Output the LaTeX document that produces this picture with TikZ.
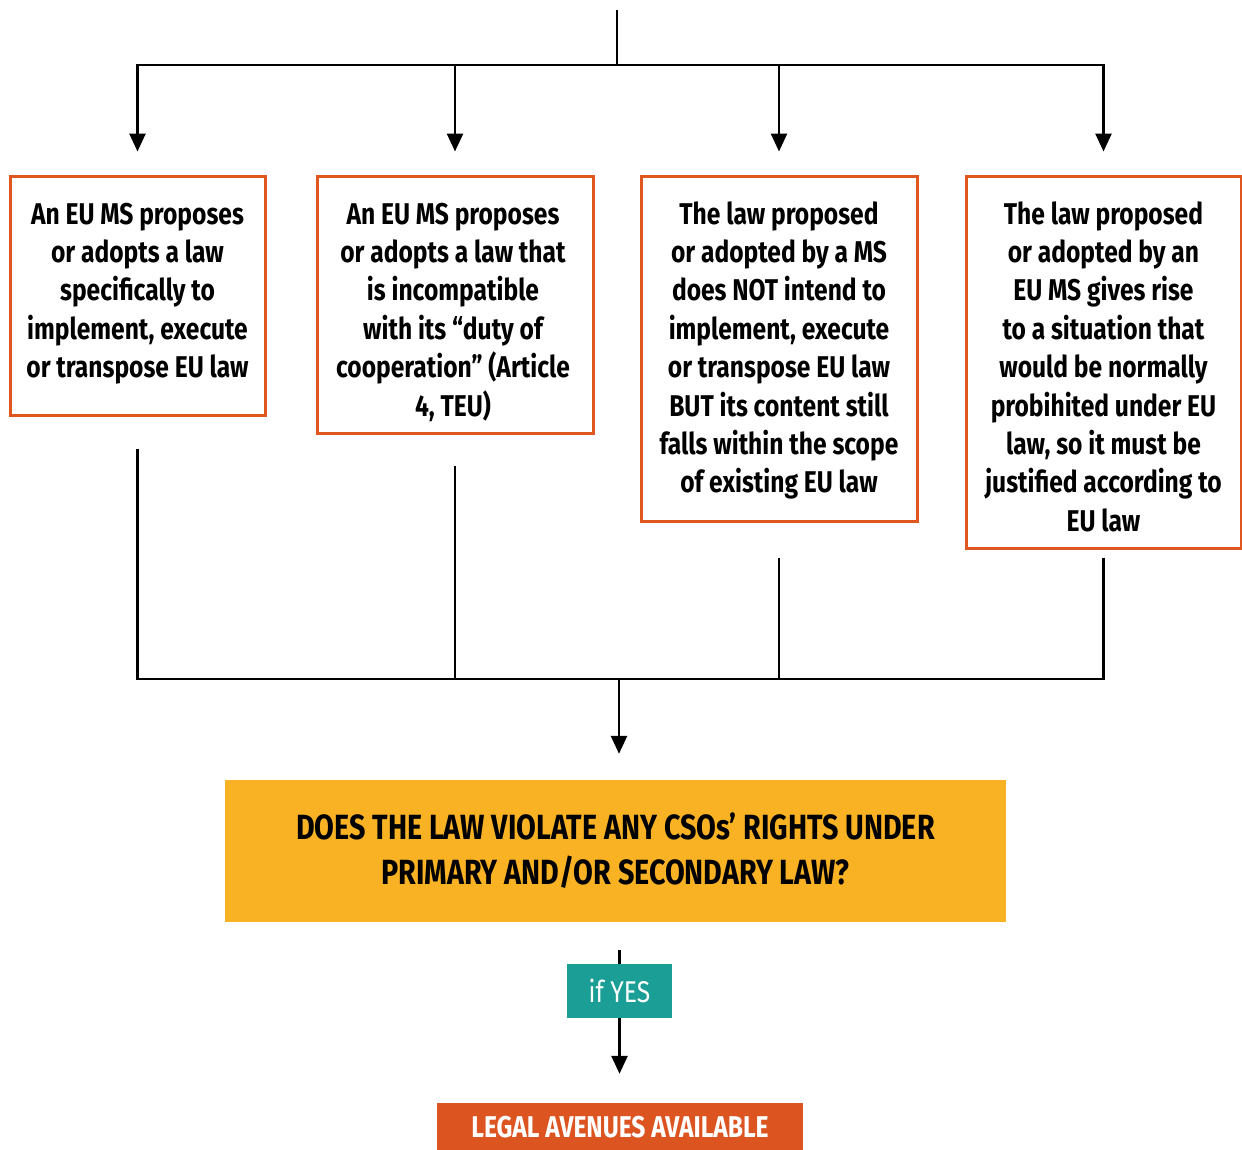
\documentclass[tikz,border=0pt]{standalone}
\usepackage{fontspec}
\setmainfont{Fira Sans}[FakeStretch=0.82]
\usetikzlibrary{arrows.meta}
\definecolor{borderor}{HTML}{E0561F}
\definecolor{fillor}{HTML}{DC5521}
\definecolor{qyellow}{HTML}{F9B224}
\definecolor{teal}{HTML}{1A9E96}
\tikzset{
  conn/.style={line width=2.6pt, black},
  arr/.style={conn, -{Triangle[width=16pt,length=18pt]}},
  casebox/.style={draw=borderor, line width=3pt, fill=white, inner sep=0pt},
  casetext/.style={anchor=north, inner sep=0pt, align=center,
    font=\fontsize{30}{38.4}\selectfont\bfseries, text=black},
}
\begin{document}
\begin{tikzpicture}[x=1pt,y=-1pt]
\useasboundingbox (0,0) rectangle (1242,1149);
% case boxes
\node[casebox, minimum width=255pt, minimum height=239pt] (b1) at (137.5,295.5) {};
\node[casebox, minimum width=276pt, minimum height=257pt] (b2) at (455,304.5) {};
\node[casebox, minimum width=276pt, minimum height=345pt] (b3) at (779,348.5) {};
\node[casebox, minimum width=275pt, minimum height=372pt] (b4) at (1103.5,362) {};
\node[casetext] (t1) at (137.5,197)
  {\strut An EU MS proposes\\or adopts a law\\specifically to\\implement, execute\\or transpose EU law};
\node[casetext] (t2) at (453,197)
  {\strut An EU MS proposes\\or adopts a law that\\is incompatible\\with its “duty of\\cooperation” (Article\\4, TEU)};
\node[casetext] (t3) at (779,197)
  {\strut The law proposed\\or adopted by a MS\\does NOT intend to\\implement, execute\\or transpose EU law\\BUT its content still\\falls within the scope\\of existing EU law};
\node[casetext] (t4) at (1103.5,197)
  {\strut The law proposed\\or adopted by an\\EU MS gives rise\\to a situation that\\would be normally\\probihited under EU\\law, so it must be\\justified according to\\EU law};
% question
\node[fill=qyellow, minimum width=781pt, minimum height=142pt, inner sep=0pt,
  align=center, font=\fontsize{35}{45}\selectfont\bfseries] (q) at (615.5,851)
  {DOES THE LAW VIOLATE ANY CSOs’ RIGHTS UNDER\\PRIMARY AND/OR SECONDARY LAW?};
\node[fill=teal, minimum width=105pt, minimum height=54pt, inner sep=0pt,
  text=white, font=\fontsize{30}{36}\selectfont] (yes) at (619.5,991) {if YES};
\node[fill=fillor, minimum width=366pt, minimum height=48pt, inner sep=0pt,
  text=white, font=\fontsize{30}{36}\selectfont\bfseries] (legal) at (620,1127) {LEGAL AVENUES AVAILABLE};
% top connectors
\coordinate (top) at (617,10);
\coordinate (split) at (617,65);
\draw[conn] (top) -- (split);
\draw[arr, shorten >=23pt] (split) -| (b1.north);
\draw[arr, shorten >=23pt] (split) -| (b2.north);
\draw[arr, shorten >=23pt] (split) -| (b3.north);
\draw[arr, shorten >=23pt] (split) -| (b4.north);
% bottom connectors
\coordinate (merge) at (619,679);
\draw[conn, shorten <=32pt] (b1.south) |- (merge);
\draw[conn, shorten <=31pt] (b2.south) |- (merge);
\draw[conn, shorten <=35pt] (b3.south) |- (merge);
\draw[conn, shorten <=8pt] (b4.south) |- (merge);
\draw[arr, shorten >=26pt] (merge) -- (merge |- q.north);
\draw[conn, shorten <=28pt] (q.south -| yes.north) -- (yes.north);
\draw[arr, shorten >=29pt] (yes.south) -- (yes.south |- legal.north);
\end{tikzpicture}
\end{document}
